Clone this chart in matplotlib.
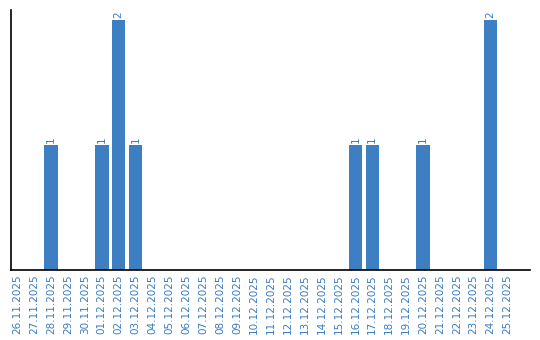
import matplotlib
matplotlib.use("Agg")
import matplotlib.pyplot as plt

dates = ["26.11.2025", "27.11.2025", "28.11.2025", "29.11.2025", "30.11.2025",
         "01.12.2025", "02.12.2025", "03.12.2025", "04.12.2025", "05.12.2025",
         "06.12.2025", "07.12.2025", "08.12.2025", "09.12.2025", "10.12.2025",
         "11.12.2025", "12.12.2025", "13.12.2025", "14.12.2025", "15.12.2025",
         "16.12.2025", "17.12.2025", "18.12.2025", "19.12.2025", "20.12.2025",
         "21.12.2025", "22.12.2025", "23.12.2025", "24.12.2025", "25.12.2025"]
counts = [0, 0, 1, 0, 0,
          1, 2, 1, 0, 0,
          0, 0, 0, 0, 0,
          0, 0, 0, 0, 0,
          1, 1, 0, 0, 1,
          0, 0, 0, 2, 0]

bar_color = "#3d7fc2"
text_color = "#3a7bc0"

fig = plt.figure(figsize=(5.4, 3.4), dpi=100)
ax = fig.add_axes([11 / 540, 70 / 340, 519 / 540, 260 / 340])

x = list(range(len(dates)))
bars = ax.bar(x, counts, width=0.8, color=bar_color)

for xi, v in zip(x, counts):
    if v > 0:
        ax.text(xi, v + 0.02, str(v), rotation=90, ha="center", va="bottom",
                fontsize=7.5, color=text_color)

ax.set_xlim(-0.37, 30.33)
ax.set_ylim(0, 2.08)
ax.set_xticks(x)
ax.set_xticklabels(dates, rotation=90, fontsize=7.5, color=text_color)
ax.tick_params(axis="x", length=0, pad=3)
ax.set_yticks([])
ax.spines["top"].set_visible(False)
ax.spines["right"].set_visible(False)
ax.spines["left"].set_linewidth(1.2)
ax.spines["bottom"].set_linewidth(1.2)

fig.savefig("out.png", dpi=100)
